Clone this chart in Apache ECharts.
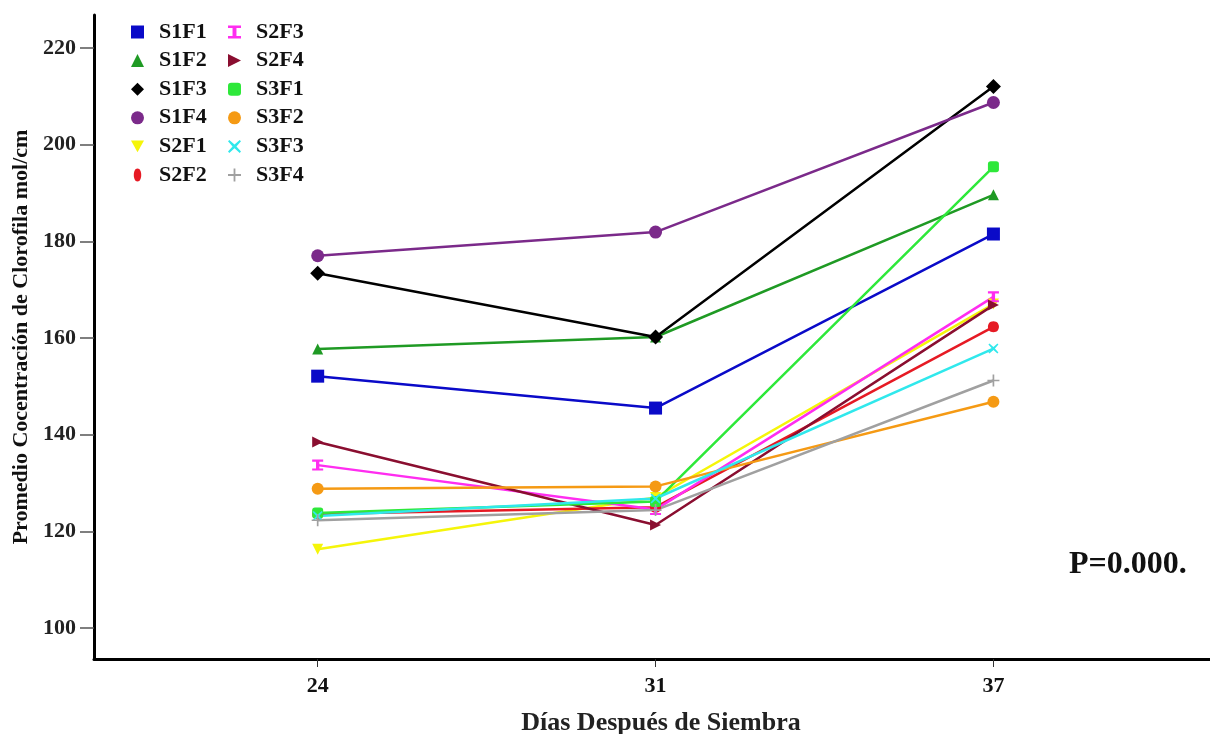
<!DOCTYPE html>
<html>
<head>
<meta charset="utf-8">
<script src="https://cdn.jsdelivr.net/npm/echarts@6/dist/echarts.min.js"></script>
<style>html,body{margin:0;padding:0;background:#fff}#c{width:1210px;height:734px}</style>
</head>
<body>
<div id="c"></div>
<script>
var categories = ['24', '31', '37'];
var yTicks = [100, 120, 140, 160, 180, 200, 220];
var seriesNames = ['S1F1','S1F2','S1F3','S1F4','S2F1','S2F2','S2F3','S2F4','S3F1','S3F2','S3F3','S3F4'];
var S1F1 = [152.1, 145.5, 181.5];
var S1F2 = [157.7, 160.2, 189.6];
var S1F3 = [173.4, 160.2, 212.0];
var S1F4 = [177.0, 181.9, 208.7];
var S2F1 = [116.3, 127.0, 167.0];
var S2F2 = [123.6, 125.0, 162.3];
var S2F3 = [133.7, 124.5, 168.5];
var S2F4 = [138.5, 121.3, 166.8];
var S3F1 = [123.8, 126.2, 195.4];
var S3F2 = [128.8, 129.3, 146.8];
var S3F3 = [123.2, 126.8, 157.8];
var S3F4 = [122.3, 124.4, 151.2];
var seriesValues = [S1F1,S1F2,S1F3,S1F4,S2F1,S2F2,S2F3,S2F4,S3F1,S3F2,S3F3,S3F4];

var colors = ['#0a0ac8','#1f9a24','#000000','#7b2a8a','#f5f50a','#e61a24','#ff2df0','#8a0e30','#2ee83a','#f59a14','#30e8ec','#a0a0a0'];
var symbols = ['rect','triangle','diamond','circle',
  'path://M0,0 L10,0 L5,9 Z',
  'path://M5,0 C8,0 9,4 9,7 C9,10 8,14 5,14 C2,14 1,10 1,7 C1,4 2,0 5,0 Z',
  'path://M0,0 L10,0 L10,2 L6.5,2 L6.5,8 L10,8 L10,10 L0,10 L0,8 L3.5,8 L3.5,2 L0,2 Z',
  'path://M0,0 L10,5 L0,10 Z',
  'roundRect','circle',
  'path://M1,0 L5,3.5 L9,0 L10,1 L6.5,5 L10,9 L9,10 L5,6.5 L1,10 L0,9 L3.5,5 L0,1 Z',
  'path://M4.3,0 L5.7,0 L5.7,4.3 L10,4.3 L10,5.7 L5.7,5.7 L5.7,10 L4.3,10 L4.3,5.7 L0,5.7 L0,4.3 L4.3,4.3 Z'];
var sizes = [13,11,15,13,11,11,11,11,11,12,10,12];

var font = '"Liberation Serif", "DejaVu Serif", serif';
var series = seriesNames.map(function(n, i){
  return {
    name: n, type: 'line',
    data: seriesValues[i].map(function(v, k){ return [k, v]; }),
    symbol: symbols[i], symbolSize: sizes[i],
    lineStyle: {color: colors[i], width: 2.5},
    itemStyle: {color: colors[i]},
    animation: false
  };
});
function legendData(arr){
  return arr.map(function(n){ var i = seriesNames.indexOf(n); return {name: n, icon: symbols[i]}; });
}
var legendCommon = {
  orient: 'vertical', itemWidth: 13, itemHeight: 13, itemGap: 6.6, top: 21, padding: 0,
  textStyle: {fontFamily: font, fontSize: 22, fontWeight: 'bold', color: '#111', padding: [0,0,0,10], lineHeight: 22}
};
var chart = echarts.init(document.getElementById('c'));
chart.setOption({
  backgroundColor: '#fff',
  animation: false,
  grid: {left: 94, right: 0, top: 15, bottom: 75, containLabel: false, outerBoundsMode: 'none'},
  legend: [
    Object.assign({left: 131, data: legendData(seriesNames.slice(0,6))}, legendCommon),
    Object.assign({left: 228, data: legendData(seriesNames.slice(6))}, legendCommon)
  ],
  xAxis: {
    type: 'value', min: -0.662, max: 2.641,
    name: 'Días Después de Siembra', nameLocation: 'middle', nameGap: 51,
    nameTextStyle: {fontFamily: font, fontSize: 26, fontWeight: 'bold', color: '#222', padding: [0,0,0,18]},
    axisLine: {onZero: false, lineStyle: {color: '#000', width: 3}},
    axisTick: {show: true, customValues: [0,1,2], length: 8, lineStyle: {color: '#333', width: 1}},
    axisLabel: {customValues: [0,1,2], formatter: function(v){ return categories[Math.round(v)]; },
      fontFamily: font, fontSize: 22, fontWeight: 'bold', color: '#111', margin: 16},
    splitLine: {show: false}
  },
  yAxis: {
    type: 'value', min: 93.6, max: 226.8,
    name: 'Promedio Cocentración de Clorofila mol/cm', nameLocation: 'middle', nameGap: 61,
    nameTextStyle: {fontFamily: font, fontSize: 22, fontWeight: 'bold', color: '#111'},
    axisLine: {show: true, onZero: false, lineStyle: {color: '#000', width: 3}},
    axisTick: {show: true, customValues: yTicks, length: 14, lineStyle: {color: '#555', width: 1.5}},
    axisLabel: {customValues: yTicks, fontFamily: font, fontSize: 22, fontWeight: 'bold', color: '#222', margin: 18},
    splitLine: {show: false}
  },
  graphic: [{
    type: 'text', left: 1069, top: 549,
    style: {text: 'P=0.000.', fontFamily: font, fontSize: 32, fontWeight: 'bold', fill: '#111'}
  }],
  series: series
});
</script>
</body>
</html>
